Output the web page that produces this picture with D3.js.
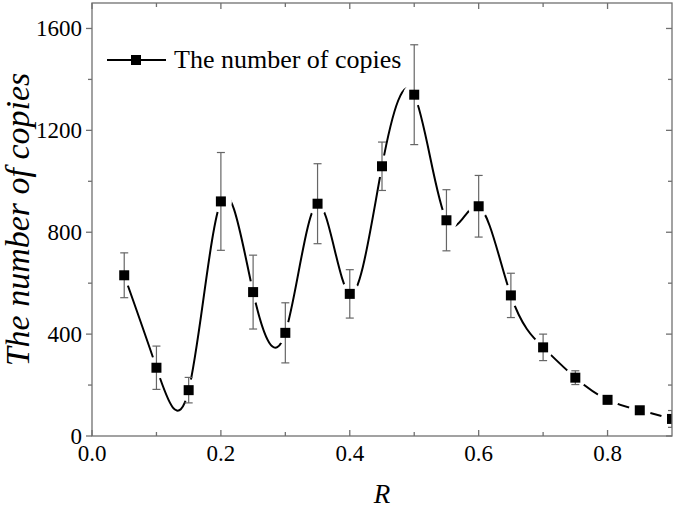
<!DOCTYPE html>
<html>
<head>
<meta charset="utf-8">
<script src="https://cdn.jsdelivr.net/npm/d3@7"></script>
<style>
  body { margin: 0; background: #fff; }
  text { font-family: "Liberation Serif", "Times New Roman", serif; fill: #000; }
</style>
</head>
<body>
<div id="chart_container"></div>
<script>
// chart data
const R_VALUES = [0.05, 0.1, 0.15, 0.2, 0.25, 0.3, 0.35, 0.4, 0.45, 0.5, 0.55, 0.6, 0.65, 0.7, 0.75, 0.8, 0.85, 0.9];
const COPIES = [631, 268, 180, 921, 565, 405, 912, 558, 1059, 1340, 847, 902, 552, 348, 229, 142, 101, 67];
const ERRORS = [88, 85, 50, 192, 145, 118, 157, 95, 95, 196, 120, 121, 87, 52, 27, 15, 6, 33];

const X_TICKS = [0, 0.2, 0.4, 0.6, 0.8];
const X_MINOR = [0.1, 0.3, 0.5, 0.7];
const Y_TICKS = [0, 400, 800, 1200, 1600];
const Y_MINOR = [200, 600, 1000, 1400];

const SERIES_LABEL = "The number of copies";
const X_LABEL = "R";
const Y_LABEL = "The number of copies";

// chart dimensions
const W = 675, H = 508;
const MARGIN = Object.freeze({ top: 3, right: 3, bottom: 72, left: 92 });
const AXIS_COLOR = "#707070";

const svg = d3
  .select("#chart_container")
  .append("svg")
  .attr("width", W)
  .attr("height", H);

const x = d3.scaleLinear().domain([0, 0.9]).range([MARGIN.left, W - MARGIN.right]);
const y = d3.scaleLinear().domain([0, 1700]).range([H - MARGIN.bottom, MARGIN.top]);

const [x0, x1] = x.range();
const [y0, y1] = y.range();

const data = R_VALUES.map((r, i) => ({ r, v: COPIES[i], e: ERRORS[i] }));

// clip everything to the plot box
svg.append("clipPath").attr("id", "plot-clip")
  .append("rect")
  .attr("x", x0).attr("y", y1)
  .attr("width", x1 - x0).attr("height", y0 - y1);

const plot = svg.append("g").attr("clip-path", "url(#plot-clip)");

// smooth spline through the points
const line = d3.line()
  .x((d) => x(d.r))
  .y((d) => y(d.v))
  .curve(d3.curveNatural);

plot.append("path")
  .datum(data)
  .attr("d", line)
  .attr("fill", "none")
  .attr("stroke", "#000")
  .attr("stroke-width", 2);

// gaps in the line around each symbol
plot.selectAll(".gap")
  .data(data)
  .enter()
  .append("circle")
  .attr("cx", (d) => x(d.r))
  .attr("cy", (d) => y(d.v))
  .attr("r", 11)
  .attr("fill", "#fff");

// error bars
const err = plot.selectAll(".err").data(data).enter().append("g").attr("class", "err");
err.append("line")
  .attr("x1", (d) => x(d.r)).attr("x2", (d) => x(d.r))
  .attr("y1", (d) => y(d.v + d.e)).attr("y2", (d) => y(d.v - d.e));
err.append("line")
  .attr("x1", (d) => x(d.r) - 4).attr("x2", (d) => x(d.r) + 4)
  .attr("y1", (d) => y(d.v + d.e)).attr("y2", (d) => y(d.v + d.e));
err.append("line")
  .attr("x1", (d) => x(d.r) - 4).attr("x2", (d) => x(d.r) + 4)
  .attr("y1", (d) => y(d.v - d.e)).attr("y2", (d) => y(d.v - d.e));
err.selectAll("line").attr("stroke", "#666").attr("stroke-width", 1.2);

// square symbols
plot.selectAll(".pt")
  .data(data)
  .enter()
  .append("rect")
  .attr("x", (d) => x(d.r) - 5)
  .attr("y", (d) => y(d.v) - 5)
  .attr("width", 10)
  .attr("height", 10)
  .attr("fill", "#000");

// axes box
const axes = svg.append("g").attr("stroke", AXIS_COLOR).attr("stroke-width", 1.3).attr("fill", "none");
axes.append("rect").attr("x", x0).attr("y", y1).attr("width", x1 - x0).attr("height", y0 - y1);

// bottom ticks (inside) and top ticks (inside)
X_TICKS.concat(X_MINOR).forEach((t) => {
  const len = X_TICKS.includes(t) ? 6 : 4;
  axes.append("line").attr("x1", x(t)).attr("x2", x(t)).attr("y1", y0).attr("y2", y0 - len);
  axes.append("line").attr("x1", x(t)).attr("x2", x(t)).attr("y1", y1).attr("y2", y1 + len);
});
// left ticks (outside) and right ticks (inside)
Y_TICKS.concat(Y_MINOR).forEach((t) => {
  const len = Y_TICKS.includes(t) ? 6 : 4;
  axes.append("line").attr("x1", x0).attr("x2", x0 - len).attr("y1", y(t)).attr("y2", y(t));
  axes.append("line").attr("x1", x1).attr("x2", x1 - len).attr("y1", y(t)).attr("y2", y(t));
});

// tick labels
svg.selectAll(".xlab")
  .data(X_TICKS)
  .enter()
  .append("text")
  .attr("x", (d) => x(d))
  .attr("y", y0 + 25)
  .attr("text-anchor", "middle")
  .style("font-size", "23px")
  .text((d) => d3.format(".1f")(d));

svg.selectAll(".ylab")
  .data(Y_TICKS)
  .enter()
  .append("text")
  .attr("x", x0 - 10)
  .attr("y", (d) => y(d))
  .attr("dy", "0.33em")
  .attr("text-anchor", "end")
  .style("font-size", "23px")
  .text((d) => d);

// axis titles
svg.append("text")
  .attr("x", (x0 + x1) / 2)
  .attr("y", 503)
  .attr("text-anchor", "middle")
  .style("font-size", "27px")
  .style("font-style", "italic")
  .text(X_LABEL);

svg.append("text")
  .attr("transform", `translate(29, ${(y0 + y1) / 2}) rotate(-90)`)
  .attr("text-anchor", "middle")
  .style("font-size", "34px")
  .style("font-style", "italic")
  .text(Y_LABEL);

// legend
const legend = svg.append("g");
legend.append("line")
  .attr("x1", 107).attr("x2", 166).attr("y1", 60).attr("y2", 60)
  .attr("stroke", "#000").attr("stroke-width", 2);
legend.append("rect")
  .attr("x", 131).attr("y", 55).attr("width", 10).attr("height", 10)
  .attr("fill", "#000");
legend.append("text")
  .attr("x", 174).attr("y", 68)
  .style("font-size", "26px")
  .text(SERIES_LABEL);
</script>
</body>
</html>
